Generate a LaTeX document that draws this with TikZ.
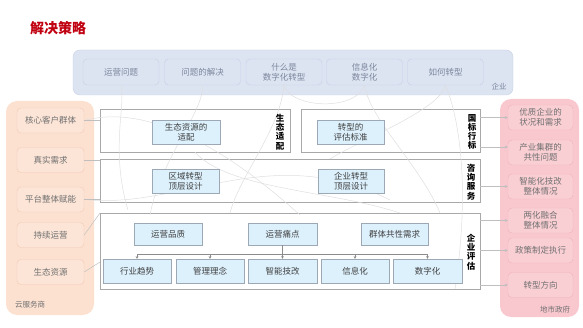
\documentclass[tikz,border=0pt]{standalone}
\usepackage{fontspec}
\setmainfont{Noto Sans CJK SC}
\usetikzlibrary{arrows.meta}

\definecolor{titlered}{HTML}{C00010}
\definecolor{entfill}{HTML}{DCE4F2}
\definecolor{entline}{HTML}{C6D0E4}
\definecolor{enttext}{HTML}{7C879C}
\definecolor{cloudfill}{HTML}{FCE1D1}
\definecolor{cloudbox}{HTML}{FCE5D7}
\definecolor{cloudline}{HTML}{F3CBB4}
\definecolor{govfill}{HTML}{F9C8CE}
\definecolor{govbox}{HTML}{FACFD4}
\definecolor{govline}{HTML}{EDB2B9}
\definecolor{sidetext}{HTML}{707070}
\definecolor{itemfill}{HTML}{DDF1FD}
\definecolor{itemline}{HTML}{9CA8B4}
\definecolor{frameline}{HTML}{A8A8A8}

\tikzset{
  boxtext/.style={font=\fontsize{8.5}{10}\selectfont,align=center,inner sep=0pt},
  topbox/.style={boxtext,rounded corners=4pt,draw=entline,fill=entfill,text=enttext,
    minimum width=76pt,minimum height=26pt},
  cloudbox/.style={boxtext,rounded corners=4pt,draw=cloudline,fill=cloudbox,text=sidetext,
    minimum width=67pt,minimum height=25pt},
  govbox/.style={boxtext,rounded corners=4pt,draw=govline,fill=govbox,text=sidetext,
    minimum width=65pt,minimum height=25pt},
  itembox/.style={boxtext,draw=itemline,fill=itemfill,text=black!75,
    minimum width=68pt,minimum height=24pt},
  frame/.style={draw=frameline,line width=0.7pt,fill=none,inner sep=0pt},
  vlabel/.style={font=\fontsize{8.5}{9.2}\selectfont\bfseries,align=center,inner sep=0pt},
  panellabel/.style={font=\fontsize{7.5}{9}\selectfont,inner sep=0pt},
  faint/.style={draw=black!13,line width=0.5pt},
  link/.style={draw=black!25,line width=0.5pt},
  linkarr/.style={link,-{Stealth[length=3pt,width=3pt]}},
  bus/.style={draw=black!45,line width=0.5pt},
  busarr/.style={bus,-{Stealth[length=2.6pt,width=2.6pt]}}
}

\begin{document}
\begin{tikzpicture}[x=1pt,y=-1pt]
\useasboundingbox (0,0) rectangle (583,328);

\node[font=\fontsize{14}{16}\selectfont\bfseries,text=titlered,inner sep=0pt] (title) at (58,28) {解决策略};

% enterprise panel
\node[rounded corners=7pt,draw=entline,fill=entfill,minimum width=440pt,minimum height=45pt] (ent) at (293,72.5) {};
\node[topbox] (t1) at (121,72) {运营问题};
\node[topbox] (t2) at (202.5,72) {问题的解决};
\node[topbox] (t3) at (284,72) {什么是\\数字化转型};
\node[topbox] (t4) at (364.5,72) {信息化\\数字化};
\node[topbox] (t5) at (445.5,72) {如何转型};
\node[panellabel,text=enttext] (entlab) at (499,87) {企业};

% cloud provider panel
\node[rounded corners=11pt,fill=cloudfill,minimum width=88pt,minimum height=214pt] (cloud) at (50,208) {};
\node[cloudbox] (c1) at (50.5,120.5) {核心客户群体};
\node[cloudbox] (c2) at (50.5,160) {真实需求};
\node[cloudbox] (c3) at (50.5,199.5) {平台整体赋能};
\node[cloudbox] (c4) at (50.5,235) {持续运营};
\node[cloudbox] (c5) at (50.5,272) {生态资源};
\node[panellabel,text=sidetext,anchor=west] (cloudlab) at (15,305) {云服务商};

% government panel
\node[rounded corners=11pt,fill=govfill,minimum width=79pt,minimum height=218pt] (gov) at (539.5,208) {};
\node[govbox] (g1) at (540.5,117.5) {优质企业的\\状况和需求};
\node[govbox] (g2) at (540.5,152.5) {产业集群的\\共性问题};
\node[govbox] (g3) at (540.5,186.5) {智能化技改\\整体情况};
\node[govbox] (g4) at (540.5,220.5) {两化融合\\整体情况};
\node[govbox] (g5) at (540.5,250.5) {政策制定执行};
\node[govbox] (g6) at (540.5,285) {转型方向};
\node[panellabel,text=sidetext] (govlab) at (555,310) {地市政府};

% frames
\node[frame,minimum width=190pt,minimum height=43pt] (fr1) at (195,130.5) {};
\node[frame,minimum width=179pt,minimum height=43pt] (fr2) at (390.5,130.5) {};
\node[frame,minimum width=380pt,minimum height=43pt] (fr3) at (290,180.5) {};
\node[frame,minimum width=380pt,minimum height=76pt] (fr4) at (290,251) {};

% faint background curves
\draw[faint] (t1.south) .. controls (126,105) and (110,150) .. (128,210);
\draw[faint] (t2.south) .. controls (205,110) and (160,160) .. (150,215);
\draw[faint] (t3.south) .. controls (290,108) and (355,112) .. (t4.south);
\draw[faint] (t3.south) .. controls (280,130) and (240,175) .. (230,213);
\draw[faint] (t4.south) .. controls (370,120) and (420,165) .. (440,213);
\draw[faint] (t5.south) .. controls (440,110) and (360,140) .. (330,159);
\draw[faint] (t5.south) .. controls (460,120) and (470,190) .. (455,289);
\draw[faint] (c1.east) .. controls (160,100) and (250,170) .. (300,215);
\draw[faint] (c3.east) .. controls (180,210) and (270,140) .. (390,200);
\draw[faint] (fr1.south) .. controls (230,190) and (330,190) .. (400,213);

% side links
\draw[link] (c1.east) -- (fr1.west |- c1.east);
\draw[link] (c2.east) -- (fr3.west |- c2.east);
\draw[link] (c3.east) -- (fr3.west |- c3.east);
\draw[link] (c4.east) -- (100,213);
\draw[link] (c5.east) -- (100,262);
\draw[linkarr] (fr2.east |- g1.west) -- (g1.west);
\draw[linkarr] (fr2.east |- 0,147) -- (g2.west |- 0,147);
\draw[linkarr] (fr3.east |- g3.west) -- (g3.west);
\draw[linkarr] (fr4.east |- g4.west) -- (g4.west);
\draw[linkarr] (fr4.east |- g5.west) -- (g5.west);
\draw[linkarr] (fr4.east |- g6.west) -- (g6.west);

% items
\node[itembox] (ecofit) at (186,132) {生态资源的\\适配};
\node[itembox,minimum width=67pt] (evalstd) at (350.5,132) {转型的\\评估标准};
\node[itembox,minimum width=67pt] (regdesign) at (185.5,181) {区域转型\\顶层设计};
\node[itembox,minimum width=66pt] (entdesign) at (351,181) {企业转型\\顶层设计};
\node[itembox,minimum height=22pt] (qual) at (168,234) {运营品质};
\node[itembox,minimum height=22pt,minimum width=69pt] (pain) at (282.5,234) {运营痛点};
\node[itembox,minimum height=22pt,minimum width=67pt] (common) at (394.5,234) {群体共性需求};
\node[itembox] (b1) at (137,271) {行业趋势};
\node[itembox] (b2) at (210,271) {管理理念};
\node[itembox,minimum width=69pt] (b3) at (282.5,271) {智能技改};
\node[itembox] (b4) at (355,271) {信息化};
\node[itembox,minimum width=69pt] (b5) at (427.5,271) {数字化};

% vertical frame labels
\node[vlabel] (vl1) at (280,132) {生\\态\\适\\配};
\node[vlabel] (vl2) at (472,132) {国\\标\\行\\标};
\node[vlabel] (vl3) at (471,182) {咨\\询\\服\\务};
\node[vlabel] (vl4) at (471,252) {企\\业\\评\\估};

% bus from pain points to the bottom row
\draw[bus] (pain.south) -- ++(0,9) coordinate (busmid);
\draw[bus] (busmid -| b1.north) -- (busmid -| b5.north);
\foreach \b in {b1,b2,b3,b4,b5}
  \draw[busarr] (busmid -| \b.north) -- (\b.north);

\end{tikzpicture}
\end{document}
